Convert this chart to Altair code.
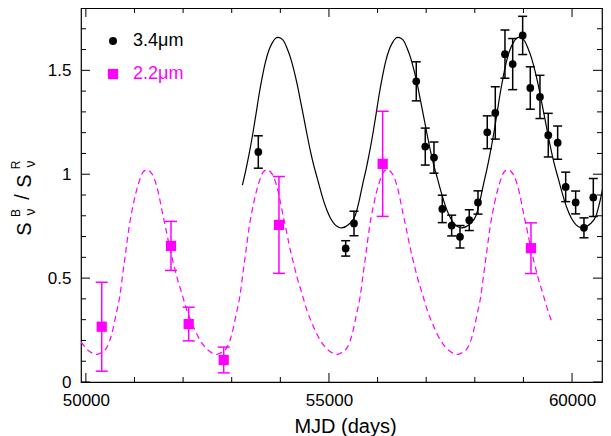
import altair as alt
import pandas as pd

# ---------------- data ----------------
# 3.4 micron ratio points (black circles)
w1_mjd = [53547, 55344, 55515, 56796, 56981, 57160, 57331, 57524, 57695, 57886, 58065, 58256,
          58421, 58620, 58779, 58984, 59141, 59340, 59511, 59704, 59869, 60074, 60245, 60437]
w1_val = [1.107, 0.643, 0.763, 1.447, 1.133, 1.080, 0.833, 0.753, 0.699, 0.779, 0.864, 1.202,
          1.295, 1.578, 1.530, 1.668, 1.415, 1.372, 1.188, 1.152, 0.939, 0.864, 0.742, 0.888]
w1_err = [0.078, 0.037, 0.059, 0.094, 0.089, 0.075, 0.066, 0.050, 0.054, 0.050, 0.056, 0.079,
          0.126, 0.116, 0.123, 0.092, 0.102, 0.104, 0.105, 0.080, 0.071, 0.055, 0.048, 0.092]

# 2.2 micron ratio points (magenta squares)
k_mjd = [50326, 51751, 52115, 52835, 53972, 56105, 59155]
k_val = [0.266, 0.655, 0.279, 0.106, 0.756, 1.050, 0.644]
k_err = [0.214, 0.118, 0.081, 0.062, 0.233, 0.253, 0.122]

# model curve for 3.4 micron (solid black)
w1_curve_mjd = [53220, 53290, 53354, 53430, 53500, 53560, 53630, 53697, 53770, 53834, 53900, 53950,
                54010, 54073, 54140, 54210, 54280, 54348, 54415, 54484, 54550, 54621, 54690, 54759,
                54830, 54895, 54960, 55032, 55134, 55200, 55260,
                55410, 55545, 55620, 55690, 55760, 55824, 55900, 55970, 56030, 56100, 56167, 56240,
                56304, 56370, 56420,
                56480, 56543, 56610, 56680, 56750, 56818, 56885, 56954, 57020, 57091, 57160, 57229,
                57300, 57365, 57430, 57502, 57604, 57670, 57730,
                57895, 58030, 58105, 58175, 58245, 58309, 58385, 58455, 58515, 58585, 58652, 58725,
                58789, 58855, 58905,
                58965, 59028, 59095, 59165, 59235, 59303, 59370, 59439, 59505, 59576, 59645, 59714,
                59785, 59850, 59915, 59987, 60089, 60155, 60215,
                60365, 60500, 60575, 60645, 60715, 60779, 60855]
w1_curve_val = [0.948, 1.020, 1.093, 1.190, 1.290, 1.380, 1.470, 1.543, 1.600, 1.632, 1.654, 1.659,
                1.654, 1.640, 1.605, 1.560, 1.500, 1.431, 1.352, 1.270, 1.190, 1.109, 1.040, 0.981,
                0.920, 0.868, 0.825, 0.788, 0.755, 0.745, 0.742,
                0.759, 0.804, 0.870, 0.948, 1.020, 1.093, 1.190, 1.290, 1.380, 1.470, 1.543, 1.600,
                1.632, 1.654, 1.659,
                1.654, 1.640, 1.605, 1.560, 1.500, 1.431, 1.352, 1.270, 1.190, 1.109, 1.040, 0.981,
                0.920, 0.868, 0.825, 0.788, 0.755, 0.745, 0.742,
                0.759, 0.804, 0.870, 0.948, 1.020, 1.093, 1.190, 1.290, 1.380, 1.470, 1.543, 1.600,
                1.632, 1.654, 1.659,
                1.654, 1.640, 1.605, 1.560, 1.500, 1.431, 1.352, 1.270, 1.190, 1.109, 1.040, 0.981,
                0.920, 0.868, 0.825, 0.788, 0.755, 0.745, 0.742,
                0.759, 0.804, 0.870, 0.948, 1.020, 1.093, 1.190]

# model curve for 2.2 micron (dashed magenta)
k_curve_mjd = [49900, 50050, 50225,
               50295, 50435, 50535, 50625, 50695, 50760, 50825, 50890, 50980, 51085, 51185, 51255,
               51325, 51391, 51494, 51563, 51651, 51720, 51802, 51871, 51974, 52077, 52214, 52352,
               52523, 52700,
               52765, 52905, 53005, 53095, 53165, 53230, 53295, 53360, 53450, 53555, 53655, 53725,
               53795, 53861, 53964, 54033, 54121, 54190, 54272, 54341, 54444, 54547, 54684, 54822,
               54993, 55170,
               55240, 55380, 55480, 55570, 55640, 55705, 55770, 55835, 55925, 56030, 56130, 56200,
               56270, 56336, 56439, 56508, 56596, 56665, 56747, 56816, 56919, 57022, 57159, 57297,
               57468, 57645,
               57720, 57860, 57960, 58050, 58120, 58185, 58250, 58315, 58405, 58510, 58610, 58680,
               58750, 58816, 58919, 58988, 59076, 59145, 59227, 59296, 59399, 59502, 59600]
k_curve_val = [0.193, 0.152, 0.133,
               0.139, 0.168, 0.233, 0.329, 0.409, 0.522, 0.635, 0.747, 0.860, 0.957, 1.013, 1.021,
               1.012, 0.988, 0.908, 0.828, 0.731, 0.651, 0.570, 0.506, 0.426, 0.345, 0.265, 0.200,
               0.152, 0.133,
               0.139, 0.168, 0.233, 0.329, 0.409, 0.522, 0.635, 0.747, 0.860, 0.957, 1.013, 1.021,
               1.012, 0.988, 0.908, 0.828, 0.731, 0.651, 0.570, 0.506, 0.426, 0.345, 0.265, 0.200,
               0.152, 0.133,
               0.139, 0.168, 0.233, 0.329, 0.409, 0.522, 0.635, 0.747, 0.860, 0.957, 1.013, 1.021,
               1.012, 0.988, 0.908, 0.828, 0.731, 0.651, 0.570, 0.506, 0.426, 0.345, 0.265, 0.200,
               0.152, 0.133,
               0.139, 0.168, 0.233, 0.329, 0.409, 0.522, 0.635, 0.747, 0.860, 0.957, 1.013, 1.021,
               1.012, 0.988, 0.908, 0.828, 0.731, 0.651, 0.570, 0.506, 0.426, 0.345, 0.279]

# axis ticks and labels
x_domain = [49900, 60616]
y_domain = [0, 1.8]
x_major = [50000, 55000, 60000]
x_minor = [51000, 52000, 53000, 54000, 56000, 57000, 58000, 59000]
y_major = [0, 0.5, 1, 1.5]
y_minor = [0.1, 0.2, 0.3, 0.4, 0.6, 0.7, 0.8, 0.9, 1.1, 1.2, 1.3, 1.4, 1.6, 1.7]
legend_labels = ["3.4\u03bcm", "2.2\u03bcm"]
x_title = "MJD (days)"

# ---------------- chart ----------------
W, H = 521, 374
FONT = "Liberation Sans"
MAG = "#ff00ff"

xs = alt.Scale(domain=x_domain, nice=False, zero=False)
ys = alt.Scale(domain=y_domain, nice=False, zero=False)
x_axis = alt.Axis(values=x_major, format="d", ticks=False, tickSize=0, domain=False, grid=False,
                  labelFontSize=17, labelFont=FONT, labelColor="black", labelPadding=10,
                  title=x_title, titleFont=FONT, titleFontSize=20, titleFontWeight="normal",
                  titleColor="black", titlePadding=8, labelFlush=False, titleX=264)
y_axis = alt.Axis(values=y_major, format="~g", ticks=False, tickSize=0, domain=False, grid=False,
                  labelFontSize=17, labelFont=FONT, labelColor="black", labelPadding=10,
                  title=None, labelFlush=False)


def X(field="mjd"):
    return alt.X(f"{field}:Q", scale=xs, axis=x_axis)


def Y(field="val"):
    return alt.Y(f"{field}:Q", scale=ys, axis=y_axis)


w1 = pd.DataFrame({"mjd": w1_mjd, "val": w1_val, "err": w1_err})
w1["lo"] = w1["val"] - w1["err"]
w1["hi"] = w1["val"] + w1["err"]
k = pd.DataFrame({"mjd": k_mjd, "val": k_val, "err": k_err})
k["lo"] = k["val"] - k["err"]
k["hi"] = k["val"] + k["err"]
w1c = pd.DataFrame({"mjd": w1_curve_mjd, "val": w1_curve_val})
kc = pd.DataFrame({"mjd": k_curve_mjd, "val": k_curve_val})

layers = []

# model curves
layers.append(alt.Chart(kc).mark_line(color=MAG, strokeWidth=1.2, strokeDash=[6, 4],
                                      interpolate="monotone", clip=True).encode(x=X(), y=Y()))
layers.append(alt.Chart(w1c).mark_line(color="black", strokeWidth=1.2,
                                       interpolate="monotone", clip=True).encode(x=X(), y=Y()))

# error bars
for df, col, capw in ((k, MAG, 12), (w1, "black", 9)):
    layers.append(alt.Chart(df).mark_rule(color=col, strokeWidth=1.5).encode(
        x=X(), y=Y("lo"), y2="hi:Q"))
    for end in ("lo", "hi"):
        layers.append(alt.Chart(df).mark_tick(color=col, orient="horizontal", size=capw,
                                              thickness=1.5, opacity=1).encode(x=X(), y=Y(end)))

# points
layers.append(alt.Chart(k).mark_square(color=MAG, size=105, opacity=1).encode(x=X(), y=Y()))
layers.append(alt.Chart(w1).mark_circle(color="black", size=60, opacity=1).encode(x=X(), y=Y()))

# inward ticks on all four sides
TMAJ, TMIN = 9, 5
for vals, L in ((x_major, TMAJ), (x_minor, TMIN)):
    d = pd.DataFrame({"mjd": vals})
    layers.append(alt.Chart(d).mark_rule(color="black", strokeWidth=1).encode(
        x=X(), y=alt.value(H), y2=alt.value(H - L)))
    layers.append(alt.Chart(d).mark_rule(color="black", strokeWidth=1).encode(
        x=X(), y=alt.value(0), y2=alt.value(L)))
for vals, L in ((y_major, TMAJ), (y_minor, TMIN)):
    d = pd.DataFrame({"val": vals})
    layers.append(alt.Chart(d).mark_rule(color="black", strokeWidth=1).encode(
        y=Y(), x=alt.value(0), x2=alt.value(L)))
    layers.append(alt.Chart(d).mark_rule(color="black", strokeWidth=1).encode(
        y=Y(), x=alt.value(W), x2=alt.value(W - L)))

# legend (drawn inside the frame, top left)
one = pd.DataFrame({"a": [0]})
layers.append(alt.Chart(one).mark_circle(color="black", size=64, opacity=1).encode(
    x=alt.value(32), y=alt.value(33)))
layers.append(alt.Chart(one).mark_square(color=MAG, size=105, opacity=1).encode(
    x=alt.value(32), y=alt.value(66)))
layers.append(alt.Chart(one).mark_text(text=legend_labels[0], font=FONT, fontSize=18, color="black",
                                       align="left", baseline="middle").encode(
    x=alt.value(52), y=alt.value(33)))
layers.append(alt.Chart(one).mark_text(text=legend_labels[1], font=FONT, fontSize=18, color=MAG,
                                       align="left", baseline="middle").encode(
    x=alt.value(52), y=alt.value(66)))

# y-axis title  S_nu^B / S_nu^R  (rotated, built from pieces)
ypieces = [
    ("S", 20, -56, 221),
    ("\u03bd", 14, -50, 204),
    ("B", 12, -65, 205),
    ("/", 20, -58, 189),
    ("S", 20, -56, 173),
    ("\u03bd", 14, -50, 156),
    ("R", 12, -65, 157),
]
for txt, fs, px, py in ypieces:
    layers.append(alt.Chart(one).mark_text(text=txt, font=FONT, fontSize=fs, color="black",
                                           angle=270, align="center", baseline="middle").encode(
        x=alt.value(px), y=alt.value(py)))

chart = alt.layer(*layers).properties(
    width=W, height=H,
    autosize=alt.AutoSizeParams(type="none"),
    padding={"left": 73, "top": 0, "right": 1, "bottom": 54},
    background="white",
).configure_view(stroke="black", strokeWidth=1.2)

chart.save("out.html", embed_options={"renderer": "svg", "actions": False})
